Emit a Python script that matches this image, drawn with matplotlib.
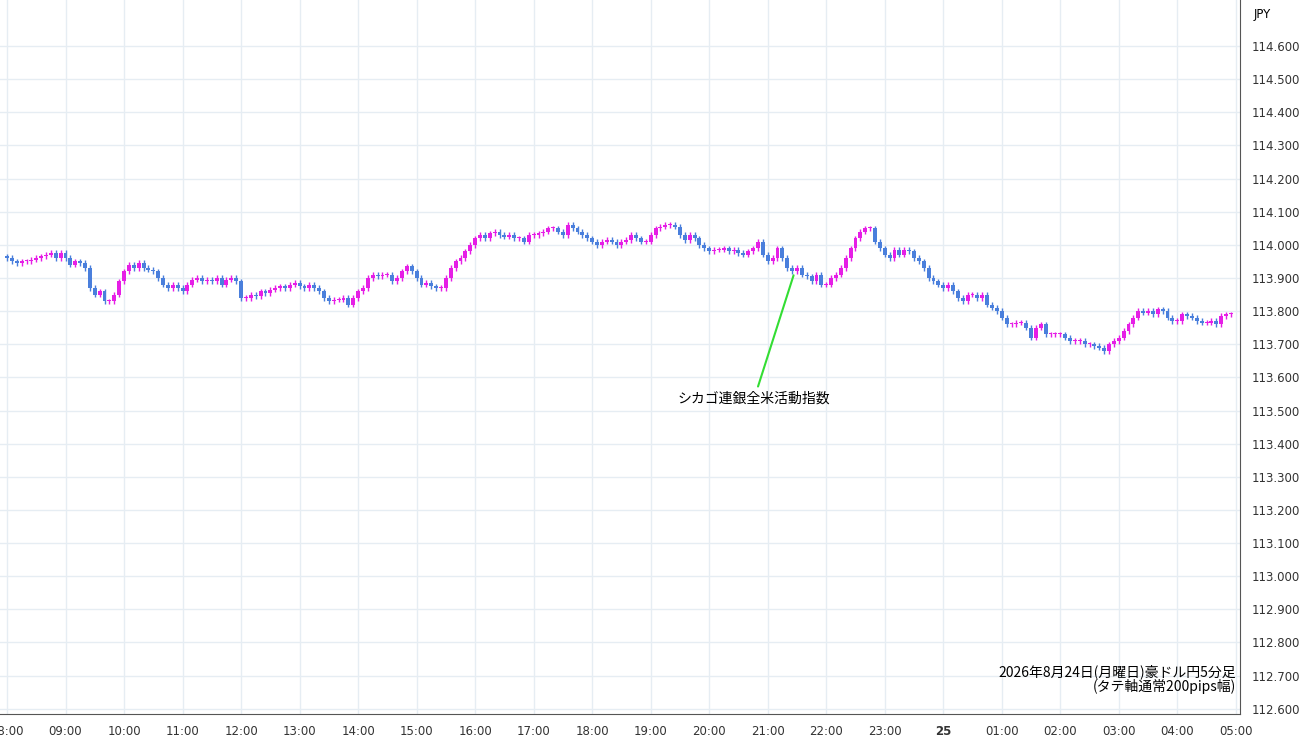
import matplotlib.pyplot as plt
import numpy as np

plt.rcParams['font.family'] = ['Noto Sans CJK JP', 'DejaVu Sans']

# 5分足の終値 (08:00〜05:00)
closes = [
    113.96, 113.95, 113.945, 113.95, 113.95, 113.955, 113.96, 113.965, 113.97, 113.975, 113.96, 113.975,
    113.96, 113.94, 113.95, 113.945, 113.93, 113.87, 113.85, 113.86, 113.83, 113.83, 113.85, 113.89,
    113.92, 113.94, 113.93, 113.945, 113.93, 113.925, 113.92, 113.90, 113.88, 113.87, 113.88, 113.87,
    113.86, 113.88, 113.895, 113.90, 113.89, 113.895, 113.89, 113.90, 113.88, 113.895, 113.90, 113.89,
    113.84, 113.84, 113.85, 113.845, 113.86, 113.855, 113.865, 113.87, 113.875, 113.87, 113.88, 113.885,
    113.875, 113.87, 113.88, 113.87, 113.86, 113.84, 113.83, 113.835, 113.835, 113.84, 113.82, 113.84,
    113.86, 113.87, 113.90, 113.91, 113.905, 113.91, 113.91, 113.89, 113.90, 113.92, 113.935, 113.92,
    113.90, 113.88, 113.885, 113.875, 113.87, 113.87, 113.90, 113.93, 113.95, 113.96, 113.98, 114.00,
    114.02, 114.03, 114.02, 114.035, 114.04, 114.03, 114.025, 114.03, 114.02, 114.02, 114.01, 114.03,
    114.03, 114.035, 114.04, 114.05, 114.05, 114.04, 114.03, 114.06, 114.05, 114.04, 114.03, 114.02,
    114.01, 114.00, 114.01, 114.015, 114.01, 114.00, 114.01, 114.015, 114.03, 114.02, 114.01, 114.01,
    114.03, 114.05, 114.055, 114.06, 114.06, 114.055, 114.03, 114.015, 114.03, 114.02, 114.00, 113.99,
    113.98, 113.985, 113.985, 113.99, 113.98, 113.985, 113.975, 113.97, 113.98, 113.99, 114.01, 113.97,
    113.95, 113.96, 113.99, 113.96, 113.93, 113.92, 113.93, 113.91, 113.905, 113.89, 113.91, 113.88,
    113.88, 113.90, 113.91, 113.93, 113.96, 113.99, 114.02, 114.04, 114.05, 114.05, 114.01, 113.99,
    113.97, 113.96, 113.985, 113.97, 113.985, 113.98, 113.96, 113.95, 113.93, 113.90, 113.89, 113.88,
    113.87, 113.88, 113.86, 113.84, 113.83, 113.85, 113.85, 113.84, 113.85, 113.82, 113.81, 113.80,
    113.78, 113.76, 113.76, 113.765, 113.765, 113.75, 113.72, 113.75, 113.76, 113.73, 113.73, 113.73,
    113.73, 113.72, 113.71, 113.71, 113.71, 113.70, 113.70, 113.695, 113.69, 113.68, 113.70, 113.71,
    113.72, 113.74, 113.76, 113.78, 113.80, 113.795, 113.80, 113.79, 113.805, 113.80, 113.78, 113.77,
    113.77, 113.79, 113.785, 113.78, 113.77, 113.765, 113.765, 113.77, 113.76, 113.785, 113.79, 113.79,
]
first_open = 113.965
hour_labels = ['08:00', '09:00', '10:00', '11:00', '12:00', '13:00', '14:00', '15:00', '16:00',
               '17:00', '18:00', '19:00', '20:00', '21:00', '22:00', '23:00', '25', '01:00',
               '02:00', '03:00', '04:00', '05:00']
price_ticks = np.round(np.arange(112.6, 114.61, 0.1), 1)
event_index = 162
event_label = 'シカゴ連銀全米活動指数'

closes = np.array(closes)
opens = np.concatenate([[first_open], closes[:-1]])
highs = np.maximum(opens, closes) + 0.008
lows = np.minimum(opens, closes) - 0.008
x = np.arange(len(closes))

up = '#e61ee6'
down = '#4a7fdc'

fig = plt.figure(figsize=(13, 7.45), dpi=100)
ax = fig.add_axes([0, 0.042, 0.954, 0.958])

colors = [up if c >= o else down for o, c in zip(opens, closes)]
ax.vlines(x, lows, highs, colors=colors, linewidth=1)
heights = np.abs(closes - opens)
heights = np.where(heights < 0.003, 0.003, heights)
ax.bar(x, heights, bottom=np.minimum(opens, closes), width=0.8, color=colors, linewidth=0)

ax.set_xlim(-1.44, 252.9)
ax.set_ylim(112.585, 114.739)
ax.set_xticks(np.arange(0, 12 * len(hour_labels), 12))
ax.set_xticklabels(hour_labels, fontsize=8.5, color='#333333', family='DejaVu Sans')
for lbl in ax.get_xticklabels():
    if lbl.get_text() == '25':
        lbl.set_fontweight('bold')
ax.yaxis.tick_right()
ax.set_yticks(price_ticks)
ax.set_yticklabels([f'{p:.3f}' for p in price_ticks], fontsize=8.5, color='#333333', family='DejaVu Sans')
ax.tick_params(length=0, pad=8)
ax.grid(color='#e6edf3', linewidth=1)
ax.set_axisbelow(True)
for s in ['top', 'left']:
    ax.spines[s].set_visible(False)
ax.spines['right'].set_color('#555555')
ax.spines['bottom'].set_color('#555555')
ax.text(1.018, 1 - 15 / 714, 'JPY', transform=ax.transAxes, fontsize=8.5, ha='center', va='center',
        family='DejaVu Sans')

ax.annotate(event_label, xy=(event_index, closes[event_index] + 0.01),
            xytext=(event_index - 8.8, 113.535), fontsize=10, ha='center', va='center',
            arrowprops=dict(arrowstyle='-', color='#33dd33', lw=1.5, shrinkB=8))

ax.text(0.997, 0.028, '2026年8月24日(月曜日)豪ドル円5分足\n(タテ軸通常200pips幅)',
        transform=ax.transAxes, ha='right', va='bottom', fontsize=10, linespacing=1.0)

fig.savefig('out.png')
